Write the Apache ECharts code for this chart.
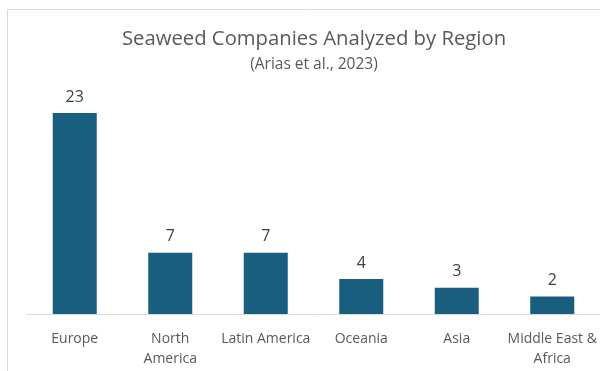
<!DOCTYPE html>
<html>
<head>
<meta charset="utf-8">
<script src="https://cdn.jsdelivr.net/npm/echarts@6/dist/echarts.min.js"></script>
<style>
  html, body { margin: 0; padding: 0; background: #ffffff; }
  #chart { width: 600px; height: 371px; }
</style>
</head>
<body>
<div id="chart"></div>
<script>
// Regions and number of seaweed companies analyzed in each
const regions = ['Europe', 'North\nAmerica', 'Latin America', 'Oceania', 'Asia', 'Middle East &\nAfrica'];
const companyCounts = [23, 7, 7, 4, 3, 2];

const chart = echarts.init(document.getElementById('chart'), null, { renderer: 'canvas' });
const fontFamily = '"Open Sans", "Noto Sans", sans-serif';

chart.setOption({
  animation: false,
  backgroundColor: '#ffffff',
  graphic: [{
    type: 'rect',
    shape: { x: 7.5, y: 9.5, width: 640, height: 400 },
    style: { fill: 'none', stroke: '#d9d9d9', lineWidth: 1 },
    silent: true,
    z: -1
  }],
  title: {
    text: 'Seaweed Companies Analyzed by Region',
    subtext: '(Arias et al., 2023)',
    left: 309,
    textAlign: 'center',
    top: 24,
    itemGap: 8,
    textStyle: { fontFamily, fontSize: 20.3, fontWeight: 'normal', color: '#595959' },
    subtextStyle: { fontFamily, fontSize: 15.5, color: '#595959' }
  },
  grid: { left: 27, top: 95.5, width: 575, height: 218.5, containLabel: false },
  xAxis: {
    type: 'category',
    data: regions,
    axisLine: { show: true, lineStyle: { color: '#d9d9d9', width: 1 } },
    axisTick: { show: false },
    axisLabel: { fontFamily, fontSize: 14, color: '#595959', margin: 15, lineHeight: 20, interval: 0 }
  },
  yAxis: {
    type: 'value',
    min: 0,
    max: 25,
    show: false,
    splitLine: { show: false }
  },
  series: [{
    type: 'bar',
    data: companyCounts,
    barWidth: 44,
    itemStyle: { color: '#195e7f' },
    label: {
      show: true,
      position: 'top',
      distance: 8,
      fontFamily,
      fontSize: 16,
      color: '#404040'
    }
  }]
});
</script>
</body>
</html>
